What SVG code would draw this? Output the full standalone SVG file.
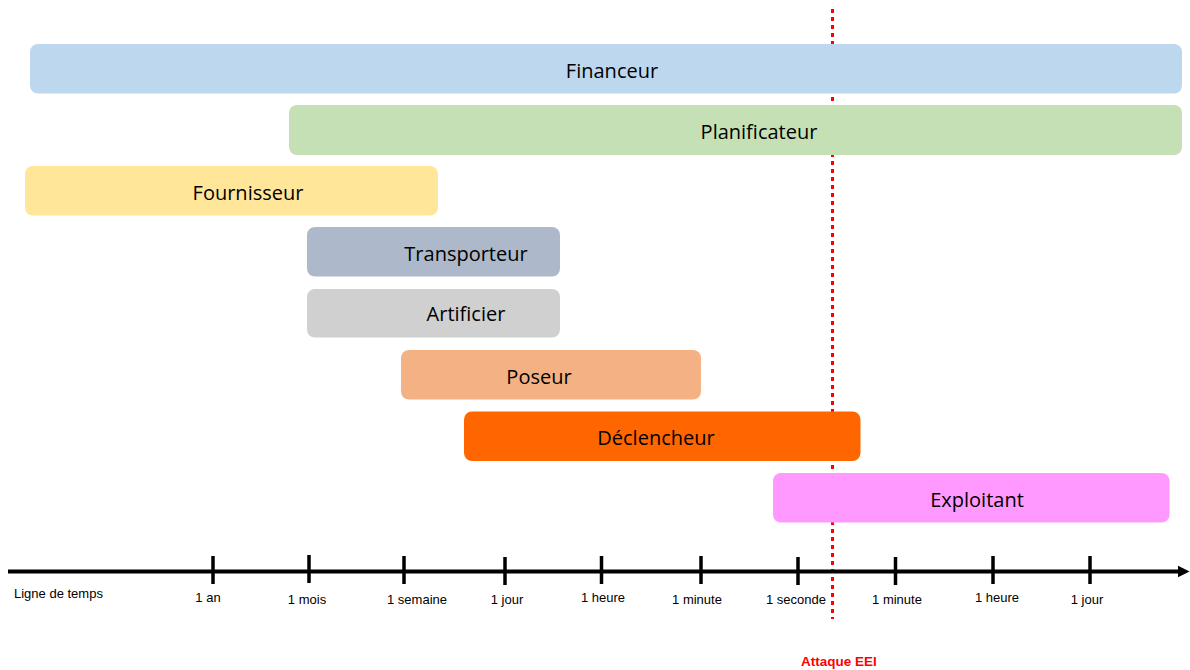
<svg xmlns="http://www.w3.org/2000/svg" width="1190" height="670" viewBox="0 0 1190 670">
<style>
.bar{stroke:none}
.bl{font-family:"Open Sans","Noto Sans",sans-serif;font-size:20px;fill:#000;text-anchor:middle}
.tl{font-family:"Liberation Sans",Arial,sans-serif;font-size:13px;fill:#000;text-anchor:middle}
.tick{stroke:#000;stroke-width:3.5}
</style>
<defs>
<marker id="arr" viewBox="0 0 10 10" refX="2" refY="5" markerWidth="3" markerHeight="4" orient="auto" markerUnits="strokeWidth">
<path d="M0,0 L10,5 L0,10 z" fill="#000"/>
</marker>
</defs>
<rect width="1190" height="670" fill="#fff"/>
<g id="attack-line">
<line x1="832.5" y1="9" x2="832.5" y2="619" stroke="#ff0000" stroke-width="3" stroke-dasharray="4,4"/>
</g>
<g id="financeur"><rect class="bar" x="30" y="44" width="1152" height="49.5" rx="8" fill="#BDD7EE"/><text class="bl" x="612" y="78">Financeur</text></g>
<g id="planificateur"><rect class="bar" x="289" y="105" width="893" height="50" rx="8" fill="#C5E0B4"/><text class="bl" x="759" y="139">Planificateur</text></g>
<g id="fournisseur"><rect class="bar" x="25" y="166" width="413" height="49.5" rx="8" fill="#FFE699"/><text class="bl" x="248" y="200">Fournisseur</text></g>
<g id="transporteur"><rect class="bar" x="307" y="227" width="253" height="49.5" rx="8" fill="#ADB9CA"/><text class="bl" x="466" y="261">Transporteur</text></g>
<g id="artificier"><rect class="bar" x="307" y="289" width="253" height="48.5" rx="8" fill="#D0D0D0"/><text class="bl" x="466" y="321">Artificier</text></g>
<g id="poseur"><rect class="bar" x="401" y="350" width="300" height="49.5" rx="8" fill="#F4B183"/><text class="bl" x="539" y="384">Poseur</text></g>
<g id="declencheur"><rect class="bar" x="464" y="411.5" width="396.5" height="49.5" rx="8" fill="#FF6600"/><text class="bl" x="656" y="445">Déclencheur</text></g>
<g id="exploitant"><rect class="bar" x="773" y="473" width="396.5" height="49.5" rx="8" fill="#FF99FF"/><text class="bl" x="977" y="507">Exploitant</text></g>
<g id="axis">
<line x1="8" y1="571.5" x2="1180" y2="571.5" stroke="#000" stroke-width="4" marker-end="url(#arr)"/>
<line class="tick" x1="213" y1="556" x2="213" y2="584"/>
<line class="tick" x1="309" y1="555" x2="309" y2="583"/>
<line class="tick" x1="404" y1="556" x2="404" y2="584"/>
<line class="tick" x1="505" y1="557" x2="505" y2="585"/>
<line class="tick" x1="601.5" y1="556" x2="601.5" y2="584"/>
<line class="tick" x1="701" y1="556" x2="701" y2="584"/>
<line class="tick" x1="798" y1="557" x2="798" y2="585"/>
<line class="tick" x1="895.5" y1="557" x2="895.5" y2="585"/>
<line class="tick" x1="993" y1="556" x2="993" y2="584"/>
<line class="tick" x1="1090" y1="556" x2="1090" y2="584"/>
<text class="tl" x="14" y="598" style="text-anchor:start">Ligne de temps</text>
<text class="tl" x="208" y="602">1 an</text>
<text class="tl" x="307" y="604">1 mois</text>
<text class="tl" x="417" y="604">1 semaine</text>
<text class="tl" x="507" y="604">1 jour</text>
<text class="tl" x="603" y="602">1 heure</text>
<text class="tl" x="697" y="604">1 minute</text>
<text class="tl" x="796" y="604">1 seconde</text>
<text class="tl" x="897" y="604">1 minute</text>
<text class="tl" x="997" y="602">1 heure</text>
<text class="tl" x="1087" y="604">1 jour</text>
</g>
<g id="attack-label">
<text x="839" y="666" style="font-family:'Liberation Sans',Arial,sans-serif;font-size:13.5px;font-weight:bold;fill:#ff0000;text-anchor:middle">Attaque EEI</text>
</g>
</svg>
